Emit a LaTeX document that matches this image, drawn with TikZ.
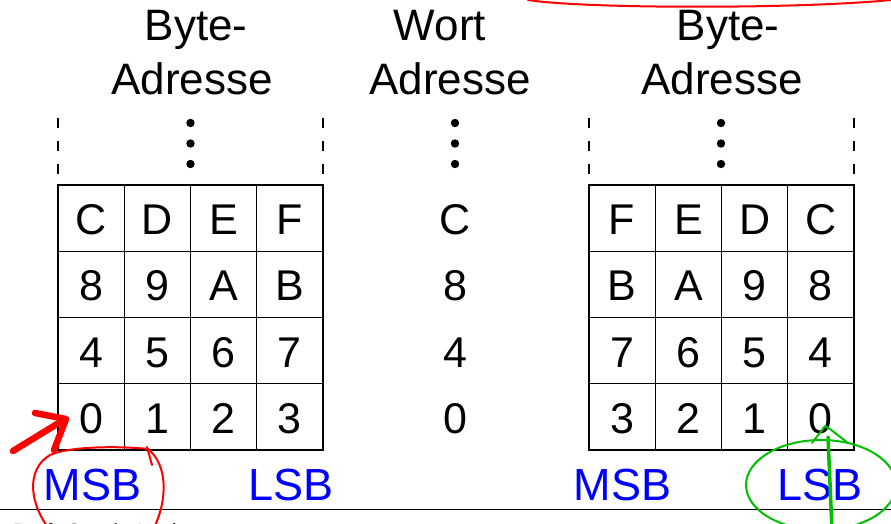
\documentclass[tikz,border=0pt]{standalone}
\usepackage{fontspec}
\setmainfont{Liberation Sans}
\begin{document}
\begin{tikzpicture}[x=1pt,y=-1pt,
  hdr/.style={anchor=base,inner sep=0pt,font=\fontsize{44}{52}\selectfont},
  cell/.style={anchor=base,inner sep=0pt,font=\fontsize{43}{50}\selectfont},
  bit/.style={anchor=base,inner sep=0pt,text=blue,font=\fontsize{45}{54}\selectfont},
  gridln/.style={line width=1.4pt,black},
  dashln/.style={line width=1.6pt,dash pattern=on 10pt off 13pt},
  redpen/.style={draw=red,line width=2pt,line cap=round,line join=round},
  greenpen/.style={draw=green!75!black,line width=2pt,line cap=round,line join=round}]
\useasboundingbox (0,0) rectangle (891,524);
\begin{scope}
\clip (0,0) rectangle (891,524);
% headers
\node[hdr] (h1a) at (196,41) {Byte-};
\node[hdr] (h1b) at (192,95) {Adresse};
\node[hdr] (h2a) at (440,41) {Wort};
\node[hdr] (h2b) at (450,95) {Adresse};
\node[hdr] (h3a) at (728,41) {Byte-};
\node[hdr] (h3b) at (722,95) {Adresse};
% dashed side lines
\draw[dashln] (58,118) -- (58,180);
\draw[dashln] (323,118) -- (323,180);
\draw[dashln] (589,118) -- (589,180);
\draw[dashln] (854,118) -- (854,180);
% dots
\foreach \yy in {123,143.5,164}{
  \fill (190.5,\yy) circle (4.2);
  \fill (455,\yy) circle (4.2);
  \fill (721,\yy) circle (4.2);
}
% grids
\draw[gridln] (58,185) rectangle (323,450);
\foreach \xx in {124.25,190.5,256.75} \draw[gridln] (\xx,185) -- (\xx,450);
\foreach \yy in {251.25,317.5,383.75} \draw[gridln] (58,\yy) -- (323,\yy);
\draw[gridln] (589,185) rectangle (854,450);
\foreach \xx in {655.25,721.5,787.75} \draw[gridln] (\xx,185) -- (\xx,450);
\foreach \yy in {251.25,317.5,383.75} \draw[gridln] (589,\yy) -- (854,\yy);
% left cells
\node[cell] (l00) at (91.1,234.6) {C};
\node[cell] (l01) at (157.4,234.6) {D};
\node[cell] (l02) at (223.6,234.6) {E};
\node[cell] (l03) at (289.9,234.6) {F};
\node[cell] (l10) at (91.1,300.9) {8};
\node[cell] (l11) at (157.4,300.9) {9};
\node[cell] (l12) at (223.6,300.9) {A};
\node[cell] (l13) at (289.9,300.9) {B};
\node[cell] (l20) at (91.1,367.1) {4};
\node[cell] (l21) at (157.4,367.1) {5};
\node[cell] (l22) at (223.6,367.1) {6};
\node[cell] (l23) at (289.9,367.1) {7};
\node[cell] (l30) at (91.1,433.4) {0};
\node[cell] (l31) at (157.4,433.4) {1};
\node[cell] (l32) at (223.6,433.4) {2};
\node[cell] (l33) at (289.9,433.4) {3};
% middle
\node[cell] (m0) at (455,234.6) {C};
\node[cell] (m1) at (455,300.9) {8};
\node[cell] (m2) at (455,367.1) {4};
\node[cell] (m3) at (455,433.4) {0};
% right cells
\node[cell] (r00) at (622.1,234.6) {F};
\node[cell] (r01) at (688.4,234.6) {E};
\node[cell] (r02) at (754.6,234.6) {D};
\node[cell] (r03) at (820.9,234.6) {C};
\node[cell] (r10) at (622.1,300.9) {B};
\node[cell] (r11) at (688.4,300.9) {A};
\node[cell] (r12) at (754.6,300.9) {9};
\node[cell] (r13) at (820.9,300.9) {8};
\node[cell] (r20) at (622.1,367.1) {7};
\node[cell] (r21) at (688.4,367.1) {6};
\node[cell] (r22) at (754.6,367.1) {5};
\node[cell] (r23) at (820.9,367.1) {4};
\node[cell] (r30) at (622.1,433.4) {3};
\node[cell] (r31) at (688.4,433.4) {2};
\node[cell] (r32) at (754.6,433.4) {1};
\node[cell] (r33) at (820.9,433.4) {0};
% MSB / LSB
\node[bit] (msb1) at (92.5,500) {MSB};
\node[bit] (lsb1) at (291,500) {LSB};
\node[bit] (msb2) at (622.5,500) {MSB};
\node[bit] (lsb2) at (820,500) {LSB};
% footer
\draw[line width=1.5pt] (0,509.5) -- (891,509.5);
\node[anchor=base west,inner sep=0pt,font=\fontsize{22}{26}\selectfont] (foot) at (12,539) {Prof. Sergio Lucia};
% red annotations
\draw[redpen] (528,0) .. controls (585,9) and (800,9) .. (891,0);
\draw[redpen,line width=6.5pt] (13,451) -- (62,421);
\draw[redpen,line width=6.5pt] (35,413) -- (66,419) -- (54,450);
\draw[redpen] (50,530) .. controls (30,505) and (25,470) .. (50,455)
  .. controls (70,446) and (120,446) .. (148,449)
  .. controls (168,465) and (168,500) .. (153,530);
\draw[redpen] (147,447) -- (152,465);
% green annotations
\draw[greenpen] (821,485) ellipse [x radius=75, y radius=45];
\draw[greenpen,line width=3.5pt] (832,530) -- (828,437);
\draw[greenpen] (812,443) -- (825,426) -- (830,429) -- (848,443);
\end{scope}
\end{tikzpicture}
\end{document}
